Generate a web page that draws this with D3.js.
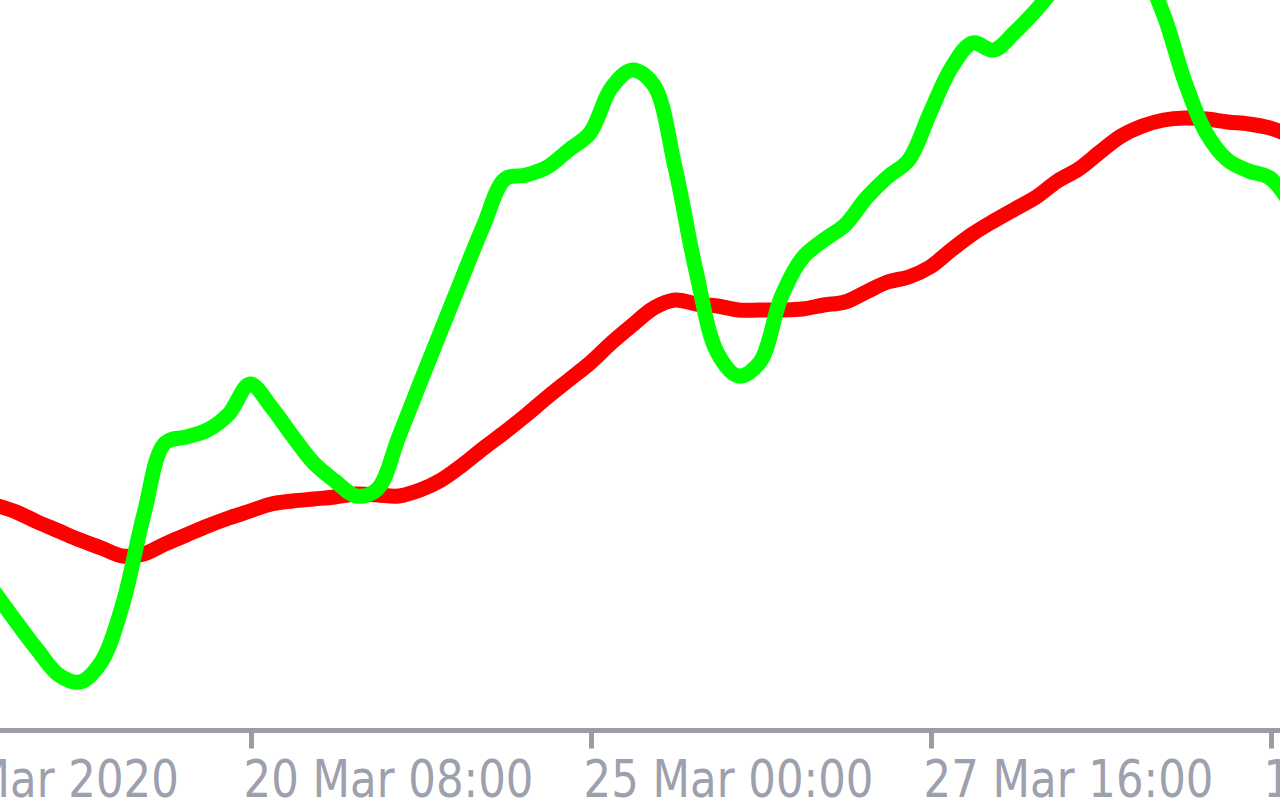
<!DOCTYPE html>
<html>
<head>
<meta charset="utf-8">
<script src="https://cdn.jsdelivr.net/npm/d3@7"></script>
<style>
  html, body { margin: 0; padding: 0; background: #ffffff; }
  svg { display: block; }
</style>
</head>
<body>
<svg id="chart" width="1280" height="800"></svg>
<script>
// ---- Data (H4 bars, hours of trading time since 17 Mar 2020 16:00) ----
const hours = d3.range(16, 261, 4);

// fast moving average (green)
const fastMA = [
  41.4, 35.6, 30.0, 25.0, 23.6, 27.6, 39.0, 57.0, 71.4, 72.6,
  74.0, 77.2, 83.2, 78.6, 72.8, 67.4, 63.8, 60.8, 62.2, 72.6,
  83.4, 94.0, 104.6, 115.0, 124.2, 125.0, 126.6, 130.0, 133.4, 142.4,
  146.0, 143.0, 126.6, 105.6, 89.4, 84.8, 87.6, 100.6, 108.4, 112.0,
  115.0, 120.4, 124.6, 128.0, 137.4, 146.4, 151.4, 150.0, 153.6, 158.0,
  163.0, 167.0, 169.0, 169.0, 166.0, 157.0, 143.6, 133.4, 128.0, 125.8,
  124.4, 119.0
];

// slow moving average (red)
const slowMA = [
  59.0, 57.6, 55.6, 53.8, 52.0, 50.4, 48.8, 49.2, 51.2, 53.0,
  54.8, 56.4, 57.8, 59.2, 59.8, 60.2, 60.6, 61.2, 61.0, 60.8,
  62.0, 64.0, 67.0, 70.4, 73.6, 77.0, 80.6, 84.0, 87.4, 91.4,
  95.0, 98.4, 100.0, 99.2, 98.8, 98.0, 98.0, 98.0, 98.2, 99.0,
  99.6, 101.6, 103.6, 104.6, 106.6, 110.0, 113.2, 115.8, 118.2, 120.6,
  123.8, 126.2, 129.6, 132.8, 134.8, 136.0, 136.4, 136.2, 135.6, 135.2,
  134.4, 132.8
];

const tickHours  = [0, 64, 128, 192, 256];
const tickLabels = ["17 Mar 2020", "20 Mar 08:00", "25 Mar 00:00", "27 Mar 16:00", "1 Apr 08:00"];

// ---- Drawing ----
const W = 1280, H = 800;
const svg = d3.select("#chart");

svg.append("rect").attr("width", W).attr("height", H).attr("fill", "#ffffff");

const x = d3.scaleLinear().domain([0, 256]).range([-90, 1270]);
const y = d3.scaleLinear().domain([0, 160]).range([800, 0]);

svg.append("defs").append("clipPath").attr("id", "plotclip")
  .append("rect").attr("x", 0).attr("y", 0).attr("width", W).attr("height", 725);

const line = d3.line().curve(d3.curveCatmullRom.alpha(0.5))
  .x((d, i) => x(hours[i])).y(d => y(d));

const plot = svg.append("g").attr("clip-path", "url(#plotclip)");

plot.append("path").datum(slowMA)
  .attr("d", line).attr("fill", "none")
  .attr("stroke", "#ff0000").attr("stroke-width", 15)
  .attr("stroke-linejoin", "round").attr("stroke-linecap", "round");

plot.append("path").datum(fastMA)
  .attr("d", line).attr("fill", "none")
  .attr("stroke", "#00ff00").attr("stroke-width", 15)
  .attr("stroke-linejoin", "round").attr("stroke-linecap", "round");

// ---- X axis ----
const axisY = 730.5;
svg.append("line")
  .attr("x1", 0).attr("x2", W).attr("y1", axisY).attr("y2", axisY)
  .attr("stroke", "#9b9da4").attr("stroke-width", 5);

const axis = d3.axisBottom(x)
  .tickValues(tickHours)
  .tickFormat((d, i) => tickLabels[i])
  .tickSize(18)
  .tickPadding(0);

const gx = svg.append("g").attr("transform", `translate(1,${axisY})`).call(axis);
gx.select(".domain").remove();
gx.selectAll(".tick line").attr("stroke", "#9b9da4").attr("stroke-width", 5);
gx.selectAll(".tick text")
  .attr("fill", "#9da0ad")
  .attr("font-family", "'DejaVu Sans', sans-serif")
  .attr("font-size", 52)
  .attr("text-anchor", "start")
  .attr("x", -8)
  .attr("dy", null)
  .attr("y", 66);

// compress glyphs to the narrow pixel-font width seen in the reference
const texts = gx.selectAll(".tick text").nodes();
const refLen = texts[1].getComputedTextLength();
const k = 290 / refLen;
texts.forEach(t => {
  const L = t.getComputedTextLength();
  d3.select(t).attr("textLength", L * k).attr("lengthAdjust", "spacingAndGlyphs");
});
</script>
</body>
</html>
